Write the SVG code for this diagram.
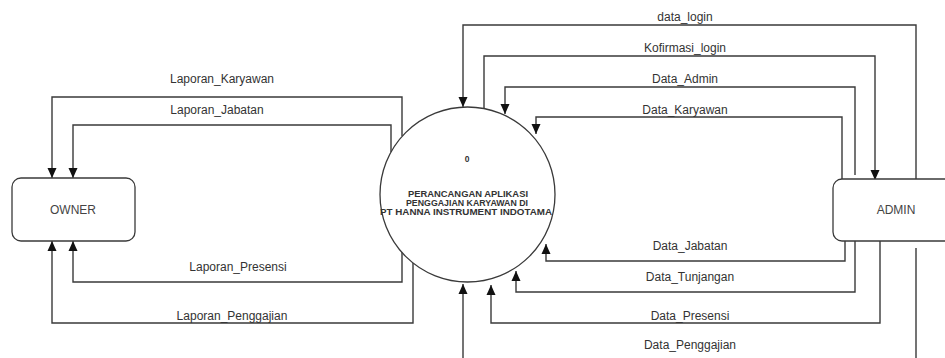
<svg xmlns="http://www.w3.org/2000/svg" width="945" height="358" viewBox="0 0 945 358">
<style>
.bg{fill:#ffffff}
.box{fill:#ffffff;stroke:#3a3a3a;stroke-width:1.3}
.flow{fill:none;stroke:#3a3a3a;stroke-width:1.4;marker-end:url(#arr)}
.lbl{font-family:"Liberation Sans",Arial,sans-serif;font-size:12px;fill:#333333;text-anchor:middle}
.nm{font-family:"Liberation Sans",Arial,sans-serif;font-size:12px;fill:#444444;text-anchor:middle}
.ttl{font-family:"Liberation Sans",Arial,sans-serif;font-size:8.5px;font-weight:bold;fill:#333333;text-anchor:middle}
</style>
<defs>
<marker id="arr" markerUnits="userSpaceOnUse" markerWidth="10" markerHeight="10" viewBox="0 0 10 10" refX="10" refY="5" orient="auto">
<path d="M0,0.5 L10,5 L0,9.5 Z" fill="#111111"/>
</marker>
</defs>
<rect class="bg" x="0" y="0" width="945" height="358"/>
<g id="connectors">
<path class="flow" d="M402,136 V97 H52 V178"/>
<path class="flow" d="M391,152 V125 H73 V178"/>
<path class="flow" d="M402,252 V282 H73 V241"/>
<path class="flow" d="M413,263 V323 H52 V241"/>
<path class="flow" d="M916,180 V25 H463 V107"/>
<path class="flow" d="M484,108 V56 H875 V180"/>
<path class="flow" d="M855,175 V87 H505 V114"/>
<path class="flow" d="M842,179 V117 H536 V134"/>
<path class="flow" d="M845,241 V261 H546 V244"/>
<path class="flow" d="M855,241 V292 H516 V271"/>
<path class="flow" d="M880,241 V323 H491 V285"/>
<path class="flow" d="M916,248 V372 H463 V284"/>
<text class="lbl" x="685" y="21">data_login</text>
<text class="lbl" x="685" y="52">Kofirmasi_login</text>
<text class="lbl" x="685" y="83">Data_Admin</text>
<text class="lbl" x="685" y="114">Data_Karyawan</text>
<text class="lbl" x="690" y="250">Data_Jabatan</text>
<text class="lbl" x="690" y="281">Data_Tunjangan</text>
<text class="lbl" x="690" y="320">Data_Presensi</text>
<text class="lbl" x="690" y="349">Data_Penggajian</text>
<text class="lbl" x="222" y="83">Laporan_Karyawan</text>
<text class="lbl" x="217" y="114">Laporan_Jabatan</text>
<text class="lbl" x="238" y="271">Laporan_Presensi</text>
<text class="lbl" x="232" y="320">Laporan_Penggajian</text>
</g>
<g id="process">
<circle class="box" cx="467.5" cy="194.5" r="87.5"/>
<text class="ttl" x="467" y="162">0</text>
<text class="ttl" x="468" y="197" textLength="120" lengthAdjust="spacingAndGlyphs">PERANCANGAN APLIKASI</text>
<text class="ttl" x="467" y="206" textLength="122" lengthAdjust="spacingAndGlyphs">PENGGAJIAN KARYAWAN DI</text>
<text class="ttl" x="466" y="215" textLength="172" lengthAdjust="spacingAndGlyphs">PT HANNA INSTRUMENT INDOTAMA</text>
</g>
<g id="owner">
<rect class="box" x="12" y="178" width="123" height="63" rx="9"/>
<text class="nm" x="73" y="214">OWNER</text>
</g>
<g id="admin">
<rect class="box" x="833" y="179" width="124" height="62" rx="9"/>
<text class="nm" x="896" y="214">ADMIN</text>
</g>
</svg>
